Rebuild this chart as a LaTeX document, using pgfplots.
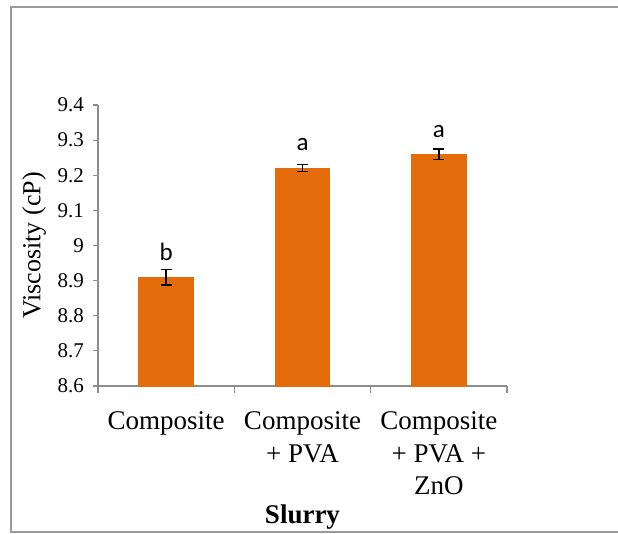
\documentclass[border=0pt]{standalone}
\usepackage{fontspec}
\setmainfont{Liberation Serif}
\newfontfamily\carlito{Carlito}
\usepackage{pgfplots}
\pgfplotsset{compat=1.18}
\definecolor{barorange}{HTML}{E46C0A}
\definecolor{axgray}{HTML}{8C8C8C}
\definecolor{framegray}{HTML}{999999}
\begin{document}
\begin{tikzpicture}
\useasboundingbox (-49pt,-74pt) rectangle (260pt,193pt);
\draw[framegray, line width=0.8pt] (262pt,189.5pt) -- (-43.5pt,189.5pt) -- (-43.5pt,-73pt) -- (262pt,-73pt);
\begin{axis}[
  scale only axis,
  width=204.5pt, height=140.5pt,
  xmin=-0.5, xmax=2.5,
  ymin=8.6, ymax=9.4,
  axis x line*=bottom, axis y line*=left,
  axis line style={axgray, line width=0.6pt},
  xtick={0,1,2},
  xticklabels={Composite, Composite\\+ PVA, Composite\\+ PVA +\\ZnO},
  x tick label style={align=center, font=\fontsize{13.5}{16.25}\selectfont, text depth=0pt},
  xticklabel shift=7pt,
  major x tick style={draw=none},
  minor xtick={-0.5,0.5,1.5,2.5},
  minor x tick style={axgray, line width=0.6pt},
  minor tick length=3.5pt,
  ytick={8.6,8.7,...,9.41},
  yticklabels={8.6,8.7,8.8,8.9,9,9.1,9.2,9.3,9.4},
  y tick label style={font=\fontsize{10.5}{12}\selectfont},
  yticklabel shift=1pt,
  major y tick style={axgray, line width=0.6pt},
  major tick length=2.5pt,
  tick align=outside,
  /pgf/number format/assume math mode=true,
  ylabel={Viscosity (cP)},
  ylabel style={font=\fontsize{13}{14}\selectfont, yshift=-1pt},
  xlabel={\textbf{Slurry}},
  xlabel style={font=\fontsize{13.5}{14}\selectfont, yshift=2pt},
  clip=false,
]
\addplot[ybar, bar width=27.3pt, fill=barorange, draw=barorange,
  error bars/.cd, y dir=both, y explicit,
  error bar style={black, line width=0.7pt},
  error mark options={rotate=90, mark size=2.75pt, line width=0.7pt, black}]
  coordinates {(0,8.91) +- (0,0.022) (1,9.22) +- (0,0.01) (2,9.26) +- (0,0.015)};
\node[anchor=base, font=\carlito\fontsize{12.5}{14}\selectfont] at (axis cs:0,8.958) {b};
\node[anchor=base, font=\carlito\fontsize{12.5}{14}\selectfont] at (axis cs:1,9.270) {a};
\node[anchor=base, font=\carlito\fontsize{12.5}{14}\selectfont] at (axis cs:2,9.308) {a};
\end{axis}
\end{tikzpicture}
\end{document}
